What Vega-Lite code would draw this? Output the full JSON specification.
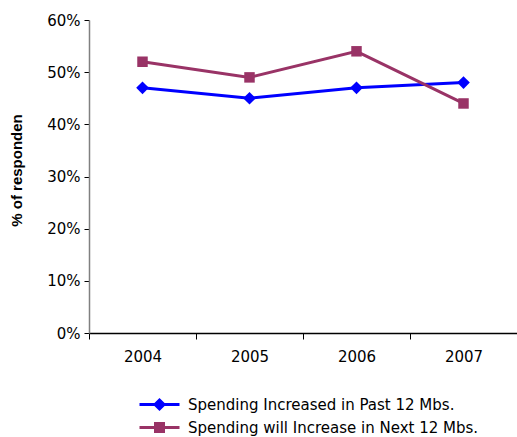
{
  "$schema": "https://vega.github.io/schema/vega-lite/v6.json",
  "width": 428,
  "height": 313,
  "autosize": {"type": "none"},
  "padding": {"left": 89, "top": 20, "right": 0, "bottom": 104},
  "background": "white",
  "config": {
    "view": {"stroke": null},
    "font": "DejaVu Sans"
  },
  "data": {
    "values": [
      {"year": "2004", "series": "Spending Increased in Past 12 Mbs.", "pct": 47},
      {"year": "2005", "series": "Spending Increased in Past 12 Mbs.", "pct": 45},
      {"year": "2006", "series": "Spending Increased in Past 12 Mbs.", "pct": 47},
      {"year": "2007", "series": "Spending Increased in Past 12 Mbs.", "pct": 48},
      {"year": "2004", "series": "Spending will Increase in Next 12 Mbs.", "pct": 52},
      {"year": "2005", "series": "Spending will Increase in Next 12 Mbs.", "pct": 49},
      {"year": "2006", "series": "Spending will Increase in Next 12 Mbs.", "pct": 54},
      {"year": "2007", "series": "Spending will Increase in Next 12 Mbs.", "pct": 44}
    ]
  },
  "encoding": {
    "x": {
      "field": "year",
      "type": "ordinal",
      "scale": {"type": "band", "paddingInner": 0, "paddingOuter": 0},
      "axis": {
        "title": null,
        "labelAngle": 0,
        "labelFontSize": 15,
        "labelColor": "black",
        "labelPadding": 10,
        "tickBand": "extent",
        "tickSize": 6,
        "tickColor": "black",
        "domainColor": "black",
        "domainWidth": 1.5,
        "grid": false
      }
    },
    "y": {
      "field": "pct",
      "type": "quantitative",
      "scale": {"domain": [0, 60], "nice": false},
      "axis": {
        "title": "% of responden",
        "titleFont": "Liberation Sans",
        "titleFontSize": 15,
        "titleFontWeight": "bold",
        "titleColor": "black",
        "titleX": -65,
        "titleY": 150,
        "values": [0, 10, 20, 30, 40, 50, 60],
        "labelExpr": "datum.value + '%'",
        "labelFontSize": 15,
        "labelColor": "black",
        "labelPadding": 4,
        "tickSize": 5,
        "tickColor": "black",
        "domainColor": "#808080",
        "domainWidth": 1.5,
        "grid": false
      }
    },
    "color": {
      "field": "series",
      "type": "nominal",
      "scale": {
        "domain": ["Spending Increased in Past 12 Mbs.", "Spending will Increase in Next 12 Mbs."],
        "range": ["#0000FF", "#993366"]
      },
      "legend": {
        "title": null,
        "orient": "none",
        "legendX": 59,
        "legendY": 373,
        "direction": "vertical",
        "symbolSize": 400,
        "symbolStrokeWidth": 3,
        "labelFontSize": 15,
        "labelColor": "black",
        "labelOffset": 17,
        "labelLimit": 400,
        "rowPadding": 1,
        "encode": {
          "symbols": {
            "update": {
              "shape": {"signal": "datum.value === 'Spending Increased in Past 12 Mbs.' ? 'M-2,0H2M-0.45,0L0,-0.45L0.45,0L0,0.45Z' : 'M-2,0H2M-0.4,-0.4H0.4V0.4H-0.4Z'"},
              "fill": {"signal": "scale('color', datum.value)"},
              "strokeWidth": {"value": 3}
            }
          }
        }
      }
    }
  },
  "layer": [
    {"mark": {"type": "line", "strokeWidth": 3}},
    {
      "mark": {"type": "point", "filled": true, "opacity": 1},
      "encoding": {
        "shape": {
          "field": "series",
          "type": "nominal",
          "scale": {"range": ["diamond", "square"]},
          "legend": null
        },
        "size": {
          "field": "series",
          "type": "nominal",
          "scale": {"range": [160, 110]},
          "legend": null
        }
      }
    }
  ]
}
